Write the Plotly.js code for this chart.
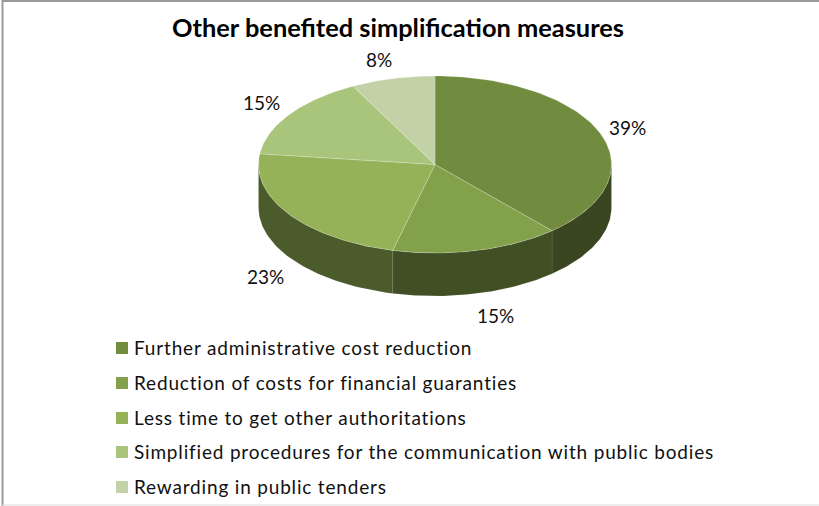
<!DOCTYPE html>
<html><head><meta charset="utf-8">
<script src="https://cdn.plot.ly/plotly-3.0.1.min.js"></script>
<style>html,body{margin:0;padding:0;background:#fff}#c{width:819px;height:506px}</style>
</head><body><div id="c"></div>
<script>
const categories = ["Further administrative cost reduction","Reduction of costs for financial guaranties","Less time to get other authoritations","Simplified procedures for the communication with public bodies","Rewarding in public tenders"];
const shares = [38.5,15.4,23.1,15.4,7.7];
const topColors = ["#718B3F","#83A04B","#96B259","#A9C47B","#C2D2A6"];
const sideColors = ["#3A4621","#414F25","#4B5B2C","#55672F","#5F7338"];
const labelShift = [[27,-6],[18,65],[-24,62],[-28,-12],[-14,-19]]; // px from rim mid-angle
const legendRows = [348,383,418,452,487];

const W=819,H=506,cx=435,cy=164.5,rx=176.5,ry=88.5,depth=43/88.5;
const total=shares.reduce((a,b)=>a+b,0);
const fontFam='Lato, Carlito, Calibri, sans-serif';
const pt=(a,dz=0)=>[Math.sin(a),Math.cos(a)-dz];
const traces=[];
let acc=0;const spans=shares.map(v=>{const s=[acc,acc+v];acc+=v;return s.map(f=>f/total*2*Math.PI);});

// sides first (only front half of the rim is visible)
spans.forEach((s,i)=>{
  const a0=Math.max(s[0],Math.PI/2),a1=Math.min(s[1],3*Math.PI/2);
  if(a1<=a0)return;
  const n=60,xs=[],ys=[];
  for(let k=0;k<=n;k++){const p=pt(a0+(a1-a0)*k/n);xs.push(p[0]);ys.push(p[1]);}
  for(let k=n;k>=0;k--){const p=pt(a0+(a1-a0)*k/n,depth);xs.push(p[0]);ys.push(p[1]);}
  xs.push(xs[0]);ys.push(ys[0]);
  traces.push({x:xs,y:ys,mode:'lines',fill:'toself',fillcolor:sideColors[i],line:{color:'rgba(255,255,255,0.1)',width:0.7},hoverinfo:'skip',showlegend:false});
});
// tops
spans.forEach((s,i)=>{
  const n=80,xs=[0],ys=[0];
  for(let k=0;k<=n;k++){const p=pt(s[0]+(s[1]-s[0])*k/n);xs.push(p[0]);ys.push(p[1]);}
  xs.push(0);ys.push(0);
  traces.push({x:xs,y:ys,mode:'lines',fill:'toself',fillcolor:topColors[i],line:{color:'rgba(255,255,255,0.3)',width:0.7},name:categories[i],hoverinfo:'name',showlegend:false});
});
// legend swatches
const toY=py=>(cy-py)/ry;const toX=px=>(px-cx)/rx;
traces.push({x:legendRows.map(()=>toX(122)),y:legendRows.map(toY),mode:'markers',marker:{symbol:'square',size:12,color:topColors,line:{width:0}},hoverinfo:'skip',showlegend:false});

const annotations=[];
spans.forEach((s,i)=>{
  const m=(s[0]+s[1])/2,p=pt(m);
  annotations.push({x:p[0],y:p[1],xref:'x',yref:'y',text:Math.round(shares[i])+'%',showarrow:false,xshift:labelShift[i][0],yshift:-labelShift[i][1],font:{family:fontFam,size:19,color:'#111'},xanchor:'center',yanchor:'middle'});
});
categories.forEach((c,i)=>{
  annotations.push({x:toX(134),y:toY(legendRows[i]),xref:'x',yref:'y',text:'<span style="letter-spacing:0.82px">'+c+'</span>',showarrow:false,xanchor:'left',yanchor:'middle',xshift:-2,yshift:1,font:{family:fontFam,size:19,color:'#111'}});
});
annotations.push({x:toX(397.5),y:toY(27),xref:'x',yref:'y',text:'<b>Other benefited simplification measures</b>',showarrow:false,xanchor:'center',yanchor:'middle',font:{family:fontFam,size:25.4,color:'#000'}});

const layout={width:W,height:H,margin:{l:0,r:0,t:0,b:0},paper_bgcolor:'#fff',plot_bgcolor:'#fff',showlegend:false,
 xaxis:{range:[toX(0),toX(W)],visible:false,fixedrange:true},
 yaxis:{range:[toY(H),toY(0)],visible:false,fixedrange:true},
 annotations,
 shapes:[
  {type:'line',xref:'paper',yref:'paper',x0:2.5/W,x1:2.5/W,y0:0,y1:1,line:{color:'#9a9a9a',width:2}},
  {type:'line',xref:'paper',yref:'paper',x0:2/W,x1:1,y0:1-1/H,y1:1-1/H,line:{color:'#9a9a9a',width:2}},
  {type:'line',xref:'paper',yref:'paper',x0:2/W,x1:1,y0:1/H,y1:1/H,line:{color:'#dcdcdc',width:1}}
 ]};
Plotly.newPlot('c',traces,layout,{displayModeBar:false,staticPlot:true});
</script></body></html>
